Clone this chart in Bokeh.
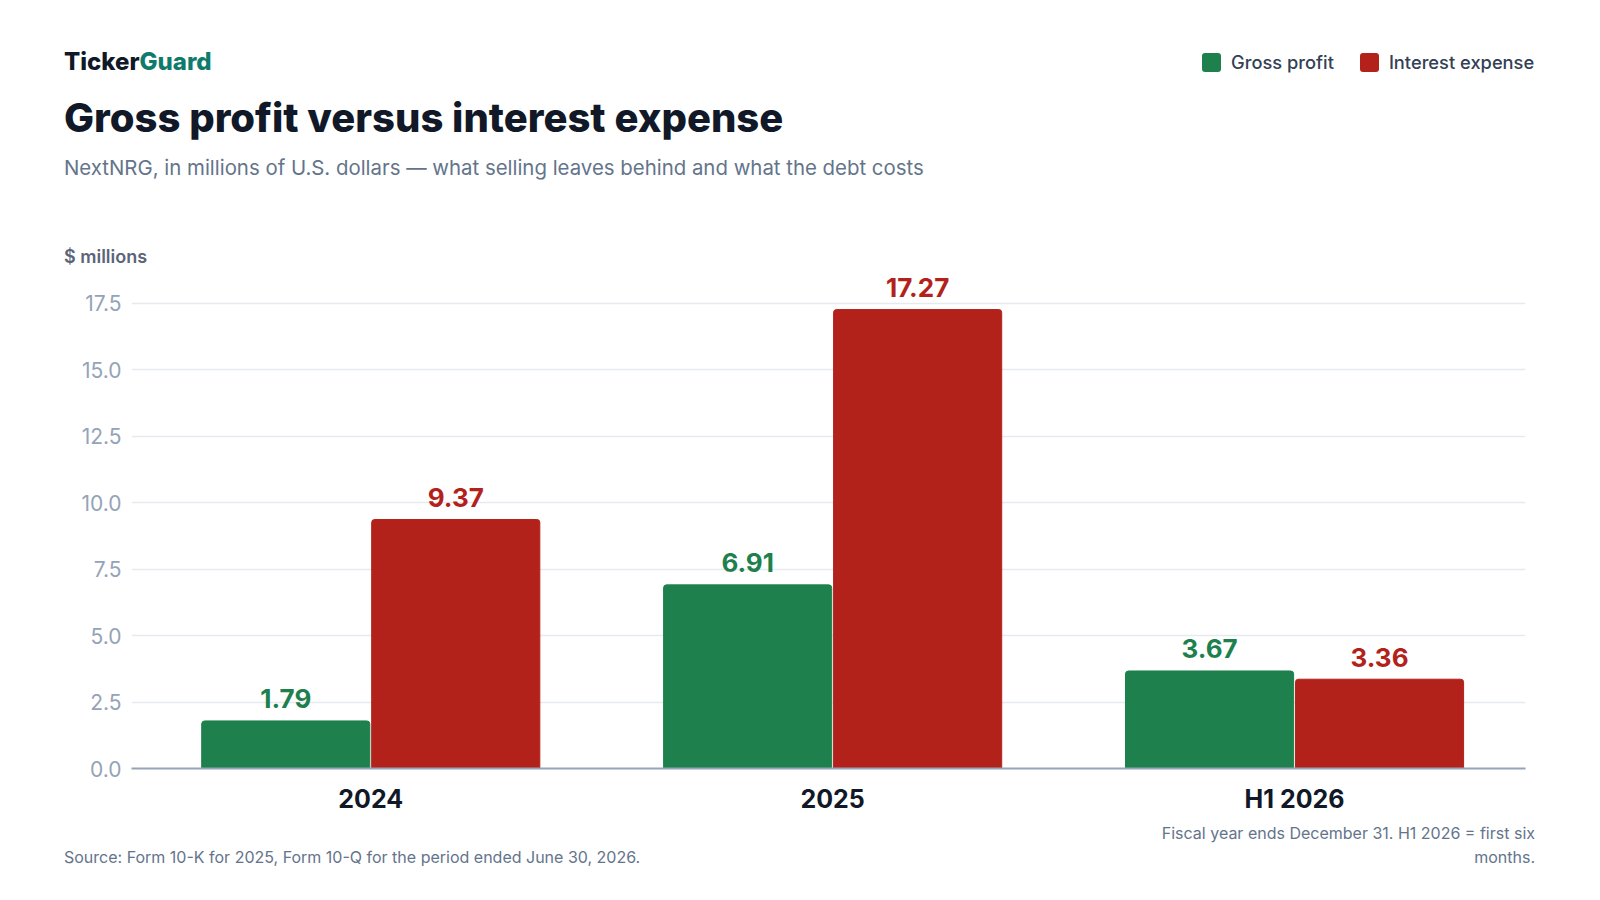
from bokeh.plotting import figure
from bokeh.models import ColumnDataSource, Range1d, FixedTicker, PrintfTickFormatter, Div
from bokeh.layouts import column
from bokeh.transform import dodge
from bokeh.core.properties import value
from bokeh.embed import file_html
from bokeh.resources import INLINE

# data
periods = ["2024", "2025", "H1 2026"]
gross_profit = [1.79, 6.91, 3.67]
interest_expense = [9.37, 17.27, 3.36]
y_ticks = [0.0, 2.5, 5.0, 7.5, 10.0, 12.5, 15.0, 17.5]

GREEN = "#1d804d"
RED = "#b3221a"
FONT = "Inter"
W = 1584

# category slots on a numeric axis, so the left edge can carry a small gutter
slots = [i + 0.5 for i in range(len(periods))]

source = ColumnDataSource(data={
    "x": slots,
    "gp": gross_profit,
    "ie": interest_expense,
    "gp_lbl": [f"{v:.2f}" for v in gross_profit],
    "ie_lbl": [f"{v:.2f}" for v in interest_expense],
})


def swatch(color):
    return (f'<span style="display:inline-block;width:19px;height:19px;border-radius:3px;'
            f'background:{color};margin-right:10px;vertical-align:middle;"></span>')


header_html = f"""
<div style="position:relative;width:{W}px;height:266px;font-family:Inter,sans-serif;">
  <div style="position:absolute;left:64px;top:50px;font-size:24px;line-height:24px;font-weight:800;color:#111827;">Ticker<span style="color:#0f7b6c;">Guard</span></div>
  <div style="position:absolute;left:64px;top:98px;font-size:40px;line-height:40px;font-weight:800;color:#111827;white-space:nowrap;">Gross profit versus interest expense</div>
  <div style="position:absolute;left:64px;top:157px;font-size:20.4px;line-height:22px;color:#64748b;white-space:nowrap;">NextNRG, in millions of U.S. dollars \u2014 what selling leaves behind and what the debt costs</div>
  <div style="position:absolute;left:1202px;top:49px;font-size:18.3px;line-height:23px;font-weight:500;color:#334155;white-space:nowrap;">
    {swatch(GREEN)}<span style="vertical-align:middle;">Gross profit</span><span style="display:inline-block;width:26px;"></span>{swatch(RED)}<span style="vertical-align:middle;">Interest expense</span>
  </div>
  <div style="position:absolute;left:64px;top:248px;font-size:18px;line-height:18px;font-weight:600;color:#5b6478;white-space:nowrap;">$ millions</div>
</div>
"""
header = Div(text=header_html, width=W, height=266, margin=(0, 0, 0, 0))

p = figure(x_range=Range1d(-0.018, len(periods)), y_range=Range1d(0, 18.89),
           width=W, height=554, output_backend="svg", toolbar_location=None,
           min_border_left=131, min_border_right=59, min_border_top=0,
           min_border_bottom=52, margin=(0, 0, 0, 0))
p.outline_line_color = None

p.vbar(x=dodge("x", -0.184), top="gp", source=source,
       width=0.364, color=GREEN, border_radius=(3, 3, 0, 0))
p.vbar(x=dodge("x", 0.184), top="ie", source=source,
       width=0.364, color=RED, border_radius=(3, 3, 0, 0))

p.text(x=dodge("x", -0.184), y="gp", text="gp_lbl",
       source=source, text_align="center", text_baseline="alphabetic",
       y_offset=-22, text_font=value(FONT), text_font_style="bold",
       text_font_size="26px", text_color=GREEN)
p.text(x=dodge("x", 0.184), y="ie", text="ie_lbl",
       source=source, text_align="center", text_baseline="alphabetic",
       y_offset=-22, text_font=value(FONT), text_font_style="bold",
       text_font_size="26px", text_color=RED)

# axes and grid
p.xgrid.grid_line_color = None
p.ygrid.grid_line_color = "#e6e9ee"
p.ygrid.grid_line_width = 1.5
p.yaxis.ticker = FixedTicker(ticks=y_ticks)
p.yaxis.formatter = PrintfTickFormatter(format="%.1f")
p.yaxis.axis_line_color = None
p.yaxis.major_tick_line_color = None
p.yaxis.minor_tick_line_color = None
p.yaxis.major_label_standoff = 4
p.yaxis.major_label_text_font = FONT
p.yaxis.major_label_text_font_size = "21px"
p.yaxis.major_label_text_color = "#94a3b8"

p.xaxis.ticker = FixedTicker(ticks=slots)
p.xaxis.major_label_overrides = {s: name for s, name in zip(slots, periods)}
p.xaxis.axis_line_color = "#94a3b8"
p.xaxis.axis_line_width = 2
p.xaxis.major_tick_line_color = None
p.xaxis.minor_tick_line_color = None
p.xaxis.major_label_standoff = 9
p.xaxis.major_label_text_font = FONT
p.xaxis.major_label_text_font_style = "bold"
p.xaxis.major_label_text_font_size = "25px"
p.xaxis.major_label_text_color = "#111827"

footer_html = f"""
<div style="position:relative;width:{W}px;height:60px;font-family:Inter,sans-serif;font-size:16px;color:#64748b;">
  <div style="position:absolute;left:64px;top:28px;line-height:18px;white-space:nowrap;">Source: Form 10-K for 2025, Form 10-Q for the period ended June 30, 2026.</div>
  <div style="position:absolute;right:{W - 1535}px;top:1px;line-height:24px;text-align:right;white-space:nowrap;">Fiscal year ends December 31. H1 2026 = first six<br>months.</div>
</div>
"""
footer = Div(text=footer_html, width=W, height=60, margin=(0, 0, 0, 0))

layout = column(header, p, footer, spacing=0)
open("out.html", "w").write(file_html(layout, INLINE))
